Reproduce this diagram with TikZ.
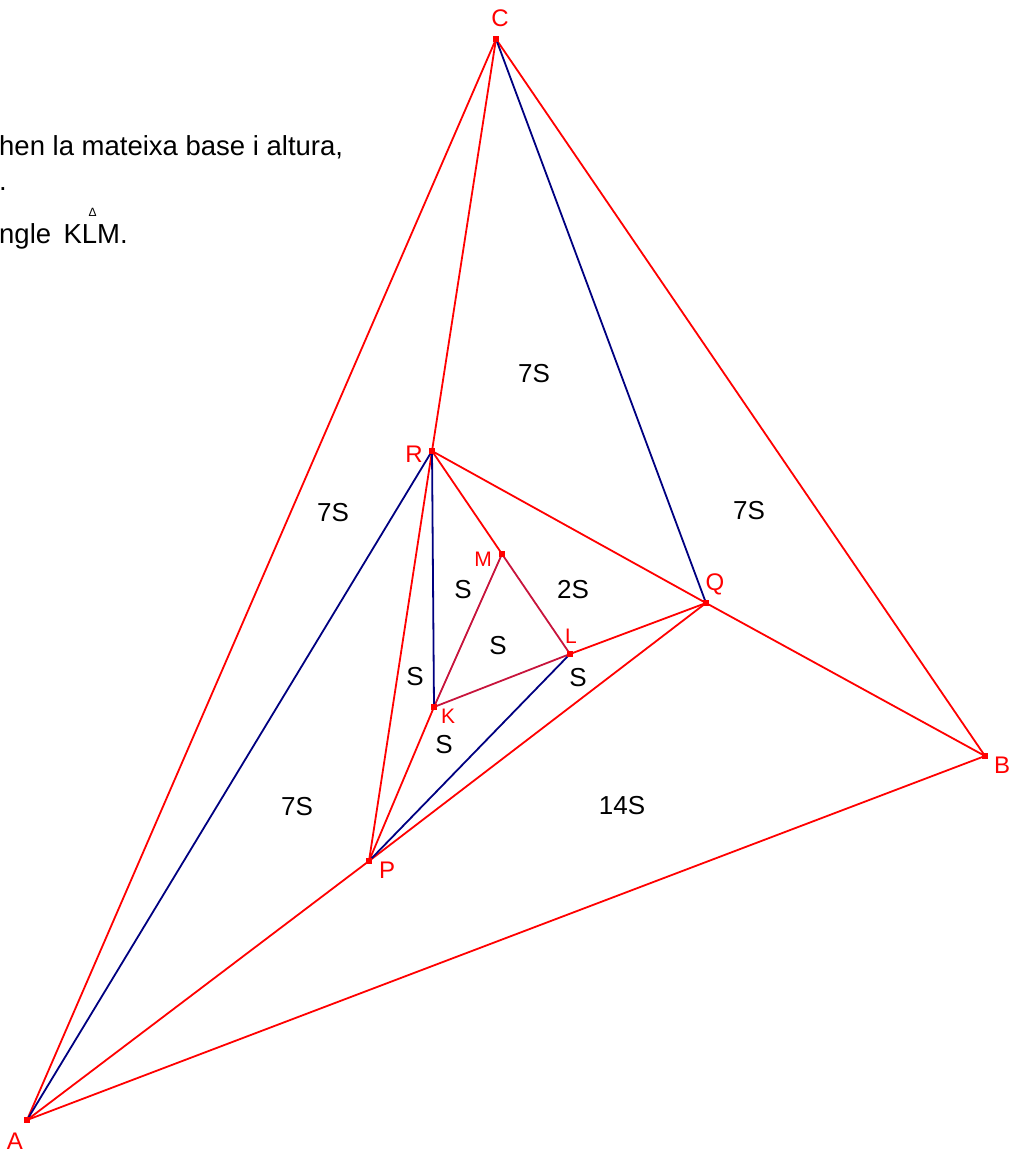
\documentclass[tikz,border=0pt]{standalone}
\usepackage{fontspec}
\setmainfont{Liberation Sans}
\definecolor{navy}{RGB}{0,0,128}
\definecolor{crim}{RGB}{200,20,60}
\begin{document}
\begin{tikzpicture}[x=1pt,y=-1pt,
  redline/.style={draw=red,line width=1.8pt},
  blueline/.style={draw=navy,line width=1.8pt},
  klmline/.style={draw=crim,line width=1.8pt},
  vtx/.style={fill=red,inner sep=0pt,minimum size=6pt,rectangle},
  plabel/.style={text=red,inner sep=0pt,font=\fontsize{24}{28}\selectfont},
  slabel/.style={text=red,inner sep=0pt,font=\fontsize{21}{24}\selectfont},
  area/.style={inner sep=0pt,font=\fontsize{26}{30}\selectfont},
  txt/.style={anchor=base west,inner sep=0pt,font=\fontsize{27.5}{32}\selectfont}]
\useasboundingbox (0,0) rectangle (1023,1153);
% points
\coordinate (C) at (496,39);
\coordinate (A) at (27,1120);
\coordinate (B) at (985,756);
\coordinate (R) at (432,451);
\coordinate (Q) at (706,603);
\coordinate (P) at (369,861);
\coordinate (M) at (502,554);
\coordinate (L) at (570,654);
\coordinate (K) at (434,707);
% header text
\node[txt] (t1) at (-1,155) {hen la mateixa base i altura,};
\node[txt] (t2) at (-1,190) {.};
\node[txt] (t3) at (-1,243) {ngle\hspace{0.45em}K\rlap{\hspace{0.24em}\raisebox{0.95em}{\fontsize{12}{12}\selectfont Δ}}LM.};
% red lines
\draw[redline] (A) -- (C);
\draw[redline] (C) -- (B);
\draw[redline] (A) -- (B);
\draw[redline] (A) -- (P) -- (Q);
\draw[redline] (C) -- (R) -- (P);
\draw[redline] (R) -- (Q) -- (B);
\draw[redline] (R) -- (M);
\draw[redline] (P) -- (K);
\draw[redline] (L) -- (Q);
% KLM triangle
\draw[klmline] (K) -- (L) -- (M) -- cycle;
% blue lines
\draw[blueline] (A) -- (R);
\draw[blueline] (R) -- (K);
\draw[blueline] (C) -- (Q);
\draw[blueline] (P) -- (L);
% vertices
\foreach \p in {A,B,C,P,Q,R,K,L,M} \node[vtx] (v\p) at (\p) {};
% point labels
\node[plabel] (lC) at (500,18) {C};
\node[plabel] (lR) at (414,454) {R};
\node[plabel] (lQ) at (715,584) {Q};
\node[plabel] (lB) at (1002,765) {B};
\node[plabel] (lP) at (387,870) {P};
\node[plabel] (lA) at (15,1141) {A};
\node[slabel] (lM) at (483,559) {M};
\node[slabel] (lL) at (571,636) {L};
\node[slabel] (lK) at (448,716) {K};
% area labels
\node[area] (a1) at (534,374) {7S};
\node[area] (a2) at (333,513) {7S};
\node[area] (a3) at (749,511) {7S};
\node[area] (a4) at (297,807) {7S};
\node[area] (a5) at (622,806) {14S};
\node[area] (a6) at (573,590) {2S};
\node[area] (a7) at (463,590) {S};
\node[area] (a8) at (498,646) {S};
\node[area] (a9) at (415,677) {S};
\node[area] (a10) at (578,678) {S};
\node[area] (a11) at (444,745) {S};
\end{tikzpicture}
\end{document}
